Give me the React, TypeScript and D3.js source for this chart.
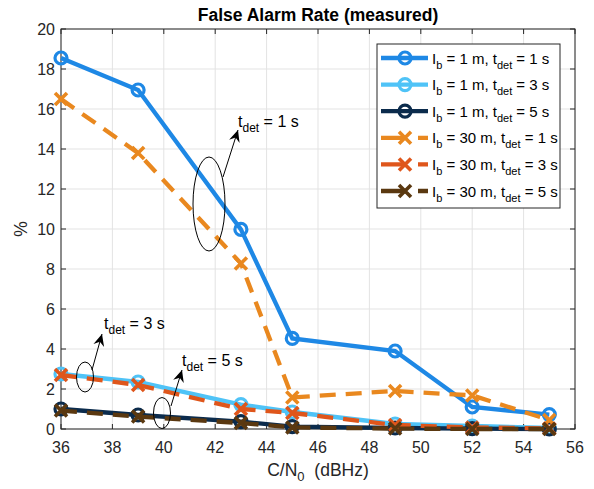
import React, { useEffect, useRef } from 'react';
import * as d3 from 'd3';

// C/N0 values where measurements were made
const cn0 = [36, 39, 43, 45, 49, 52, 55];

// false alarm rate in %
const far1m1s = [18.55, 16.95, 9.98, 4.53, 3.9, 1.1, 0.72];
const far1m3s = [2.75, 2.35, 1.22, 0.85, 0.25, 0.15, 0.05];
const far1m5s = [1.0, 0.7, 0.37, 0.12, 0.05, 0.02, 0.0];
const far30m1s = [16.5, 13.8, 8.28, 1.58, 1.9, 1.68, 0.45];
const far30m3s = [2.7, 2.2, 1.0, 0.8, 0.2, 0.08, 0.03];
const far30m5s = [0.92, 0.62, 0.3, 0.08, 0.02, 0.0, 0.0];

const seriesIb = ['1', '1', '1', '30', '30', '30'];
const seriesTdet = ['1', '3', '5', '1', '3', '5'];
const seriesValues = [far1m1s, far1m3s, far1m5s, far30m1s, far30m3s, far30m5s];
const seriesColors = ['#1e88e5', '#4fc3f7', '#0b2b4c', '#e9881f', '#df561b', '#5a3810'];

const xTicks = d3.range(36, 57, 2);
const yTicks = d3.range(0, 21, 2);

const FONT = '"Liberation Sans", Arial, Helvetica, sans-serif';
const FS = 16;   // ticks / annotations
const SUB = 12;  // subscripts

export default function App() {
  const node = useRef(null);

  useEffect(() => {
    const width = 594, height = 489;
    const margin = { left: 61, right: 19, top: 29, bottom: 60 };

    const svg = d3.select(node.current);
    svg.selectAll('*').remove();

    const x = d3.scaleLinear().domain([36, 56]).range([margin.left, width - margin.right]);
    const y = d3.scaleLinear().domain([0, 20]).range([height - margin.bottom, margin.top]);
    const [x0, x1] = x.range();
    const [y0, y1] = y.range();

    svg.append('rect').attr('width', width).attr('height', height).attr('fill', '#fff');

    // grid
    const grid = svg.append('g').attr('stroke', '#e3e3e3').attr('stroke-width', 1);
    xTicks.forEach(t => grid.append('line').attr('x1', x(t)).attr('x2', x(t)).attr('y1', y0).attr('y2', y1));
    yTicks.forEach(t => grid.append('line').attr('y1', y(t)).attr('y2', y(t)).attr('x1', x0).attr('x2', x1));

    // axes box with inward ticks
    const ax = svg.append('g').attr('stroke', '#262626').attr('stroke-width', 1).attr('fill', 'none');
    ax.append('rect').attr('x', x0).attr('y', y1).attr('width', x1 - x0).attr('height', y0 - y1);
    xTicks.forEach(t => {
      ax.append('line').attr('x1', x(t)).attr('x2', x(t)).attr('y1', y0).attr('y2', y0 - 5);
      ax.append('line').attr('x1', x(t)).attr('x2', x(t)).attr('y1', y1).attr('y2', y1 + 5);
    });
    yTicks.forEach(t => {
      ax.append('line').attr('y1', y(t)).attr('y2', y(t)).attr('x1', x0).attr('x2', x0 + 5);
      ax.append('line').attr('y1', y(t)).attr('y2', y(t)).attr('x1', x1).attr('x2', x1 - 5);
    });

    const labels = svg.append('g').attr('font-family', FONT).attr('font-size', FS).attr('fill', '#262626');
    xTicks.forEach(t => labels.append('text').attr('x', x(t)).attr('y', y0 + 24).attr('text-anchor', 'middle').text(t));
    yTicks.forEach(t => labels.append('text').attr('x', x0 - 6).attr('y', y(t) + 6).attr('text-anchor', 'end').text(t));

    // axis labels and title
    const xl = labels.append('text').attr('x', (x0 + x1) / 2).attr('y', 476).attr('text-anchor', 'middle')
      .attr('font-size', 17.5);
    xl.append('tspan').text('C/N');
    xl.append('tspan').attr('font-size', 13).attr('dy', 5).text('0');
    xl.append('tspan').attr('dy', -5).text('\u00a0\u00a0(dBHz)');

    labels.append('text').attr('transform', `translate(27,${(y0 + y1) / 2}) rotate(-90)`)
      .attr('text-anchor', 'middle').attr('font-size', 17.5).text('%');

    svg.append('text').attr('x', (x0 + x1) / 2).attr('y', 21).attr('text-anchor', 'middle')
      .attr('font-family', FONT).attr('font-size', 17.5).attr('font-weight', 'bold').attr('fill', '#000')
      .text('False Alarm Rate (measured)');

    const line = d3.line().x((d, i) => x(cn0[i])).y(d => y(d));

    const drawMarker = (g, cx, cy, isCircle, color) => {
      if (isCircle) {
        g.append('circle').attr('cx', cx).attr('cy', cy).attr('r', 6)
          .attr('fill', 'none').attr('stroke', color).attr('stroke-width', 3.2);
      } else {
        const s = 6;
        g.append('path').attr('d', `M${cx - s},${cy - s}L${cx + s},${cy + s}M${cx - s},${cy + s}L${cx + s},${cy - s}`)
          .attr('fill', 'none').attr('stroke', color).attr('stroke-width', 3.6);
      }
    };

    // series
    const plot = svg.append('g');
    seriesValues.forEach((vals, k) => {
      const color = seriesColors[k];
      const dashed = seriesIb[k] === '30';
      const g = plot.append('g');
      g.append('path').attr('d', line(vals)).attr('fill', 'none').attr('stroke', color)
        .attr('stroke-width', 4.3).attr('stroke-dasharray', dashed ? '16 10' : null);
      vals.forEach((v, i) => drawMarker(g, x(cn0[i]), y(v), !dashed, color));
    });

    // annotations: ellipses + arrows + text
    const annot = svg.append('g');
    const arrow = (xa, ya, xb, yb) => {
      annot.append('line').attr('x1', xa).attr('y1', ya).attr('x2', xb).attr('y2', yb)
        .attr('stroke', '#000').attr('stroke-width', 1);
      const ang = Math.atan2(yb - ya, xb - xa);
      const L = 12, W = 5.5, B = 8;
      const px = (l, w) => [xb - l * Math.cos(ang) - w * Math.sin(ang), yb - l * Math.sin(ang) + w * Math.cos(ang)];
      const p1 = px(L, W), p2 = px(B, 0), p3 = px(L, -W);
      annot.append('path').attr('d', `M${xb},${yb}L${p1}L${p2}L${p3}Z`).attr('fill', '#000');
    };
    const tdetLabel = (tx, ty, val) => {
      const t = annot.append('text').attr('x', tx).attr('y', ty).attr('font-family', FONT)
        .attr('font-size', FS).attr('fill', '#000');
      t.append('tspan').text('t');
      t.append('tspan').attr('font-size', SUB).attr('dy', 5).text('det');
      t.append('tspan').attr('dy', -5).text(` = ${val} s`);
    };
    const ell = (cx, cy, rx, ry) => annot.append('ellipse').attr('cx', cx).attr('cy', cy).attr('rx', rx).attr('ry', ry)
      .attr('fill', 'none').attr('stroke', '#000').attr('stroke-width', 1);

    ell(209, 204, 16, 47);
    arrow(223, 177, 238, 130);
    tdetLabel(238, 127, '1');

    ell(85, 377, 8.5, 15);
    arrow(92, 370, 102, 334);
    tdetLabel(104, 329, '3');

    ell(162, 413, 8.5, 15.5);
    arrow(171, 406, 182, 370);
    tdetLabel(182, 366, '5');

    // legend
    const lg = svg.append('g');
    lg.append('rect').attr('x', 377).attr('y', 44).attr('width', 183).attr('height', 164)
      .attr('fill', '#fff').attr('stroke', '#262626').attr('stroke-width', 1);
    seriesValues.forEach((vals, k) => {
      const ry = 58 + k * 26.6;
      const color = seriesColors[k];
      const dashed = seriesIb[k] === '30';
      lg.append('line').attr('x1', 381).attr('x2', 428).attr('y1', ry).attr('y2', ry)
        .attr('stroke', color).attr('stroke-width', 4.3).attr('stroke-dasharray', dashed ? '25 12' : null);
      drawMarker(lg, 405, ry, !dashed, color);
      const t = lg.append('text').attr('x', 432).attr('y', ry + 5.5).attr('font-family', FONT)
        .attr('font-size', 15).attr('fill', '#000');
      t.append('tspan').text('I');
      t.append('tspan').attr('font-size', 11).attr('dy', 5).text('b');
      t.append('tspan').attr('dy', -5).text(` = ${seriesIb[k]} m, t`);
      t.append('tspan').attr('font-size', 11).attr('dy', 5).text('det');
      t.append('tspan').attr('dy', -5).text(` = ${seriesTdet[k]} s`);
    });
  }, []);

  return (
    <svg ref={node} width={594} height={489}
      style={{ position: 'absolute', left: 0, top: 0, display: 'block' }} />
  );
}
